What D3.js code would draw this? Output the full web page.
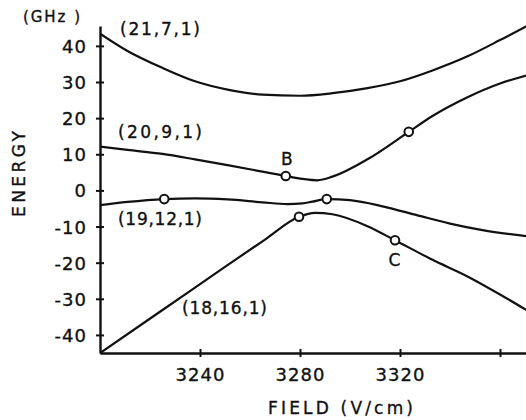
<!DOCTYPE html>
<html>
<head>
<meta charset="utf-8">
<script src="https://cdn.jsdelivr.net/npm/d3@7"></script>
<style>
  html, body { margin: 0; padding: 0; background: #fff; }
  svg { display: block; }
  text { font-family: "DejaVu Sans", sans-serif; fill: #111; stroke: #111; stroke-width: 0.35px; }
</style>
</head>
<body>
<svg id="chart" width="526" height="420"></svg>
<script>
// ---- data (field in V/cm, energy in GHz) ----
const curve21_7_1 = [[3200,43.4],[3211,38.6],[3225,33.9],[3238,30.2],[3251,27.9],[3265,26.5],[3280,26.2],[3293,26.9],[3307,28.3],[3320,30.2],[3333,33.2],[3347,37.1],[3360,41.6],[3371,45.6]];
const curve20_9_1 = [[3200,12.1],[3211,11.2],[3225,10.1],[3238,8.6],[3251,7.0],[3265,5.2],[3274.3,4.0],[3281,3.2],[3287,2.8],[3293,3.8],[3307,8.6],[3323.5,16.2],[3333,20.6],[3347,25.8],[3360,29.6],[3371,31.9]];
const curve19_12_1 = [[3200,-4.1],[3211,-3.2],[3225.7,-2.4],[3238,-2.2],[3251,-2.5],[3265,-3.3],[3275,-3.8],[3281,-3.6],[3285,-3.1],[3290.7,-2.4],[3300,-2.7],[3313,-4.4],[3327,-6.9],[3340,-9.2],[3353,-11.0],[3371,-12.7]];
const curve18_16_1 = [[3200,-45],[3225,-33.1],[3251,-20.7],[3266,-13.6],[3279.6,-7.3],[3286,-6.2],[3293,-6.6],[3307,-9.9],[3318,-13.8],[3333,-19.2],[3347,-23.8],[3360,-28.8],[3371,-33.3]];
const curveNames = ["(21,7,1)", "(20,9,1)", "(19,12,1)", "(18,16,1)"];
const markers = [[3274.3,4.0],[3323.5,16.2],[3225.7,-2.4],[3290.7,-2.4],[3279.6,-7.3],[3318,-13.8]];
const pointLabels = [["B",3274.7,7.1],["C",3317.8,-21.0]];
const yTicks = [-40,-30,-20,-10,0,10,20,30,40];
const xTicks = [3240,3280,3320,3360];
const xTickLabels = ["3240","3280","3320",""];
const xTitle = "FIELD (V/cm)";
const yTitle = "ENERGY";
const yUnit = "(GHz )";

// ---- scales ----
const svg = d3.select("#chart");
const x = d3.scaleLinear().domain([3200, 3370.4]).range([100, 526]);
const y = d3.scaleLinear().domain([-45, 45.5]).range([353, 26]);

svg.append("defs").append("clipPath").attr("id","plotclip")
  .append("rect").attr("x",100).attr("y",20).attr("width",426).attr("height",334);

// ---- curves ----
const line = d3.line().x(d => x(d[0])).y(d => y(d[1])).curve(d3.curveMonotoneX);
const g = svg.append("g").attr("clip-path","url(#plotclip)");
[curve21_7_1, curve20_9_1, curve19_12_1, curve18_16_1].forEach(c => {
  g.append("path").datum(c).attr("d", line)
    .attr("fill","none").attr("stroke","#111").attr("stroke-width",2.2)
    .attr("stroke-linejoin","round");
});

// ---- axes ----
const yAxis = d3.axisLeft(y).tickValues(yTicks).tickFormat(d => String(d)).tickSizeOuter(0).tickSizeInner(4);
const ya = svg.append("g").attr("transform","translate(100,0)").call(yAxis);
ya.select(".domain").attr("stroke","#111").attr("stroke-width",2.4);
ya.selectAll(".tick line").attr("x1",-4).attr("x2",4).attr("stroke","#111").attr("stroke-width",2);
ya.selectAll(".tick text").attr("x",-13).attr("dy","0.36em")
  .style("font-size","18px").style("font-family","'DejaVu Sans', sans-serif").attr("fill","#111")
  .attr("letter-spacing","1");

const xAxis = d3.axisBottom(x).tickValues(xTicks).tickFormat((d,i) => xTickLabels[i]).tickSizeOuter(0).tickSizeInner(4);
const xa = svg.append("g").attr("transform","translate(0,353)").call(xAxis);
xa.select(".domain").attr("stroke","#111").attr("stroke-width",2.4);
xa.selectAll(".tick line").attr("y1",-4).attr("y2",4).attr("stroke","#111").attr("stroke-width",2);
xa.selectAll(".tick text").attr("y",28).attr("dy","0")
  .style("font-size","18px").style("font-family","'DejaVu Sans', sans-serif").attr("fill","#111")
  .attr("letter-spacing","1");

// ---- markers ----
svg.append("g").selectAll("circle").data(markers).join("circle")
  .attr("cx", d => x(d[0])).attr("cy", d => y(d[1])).attr("r",4.3)
  .attr("fill","#fff").attr("stroke","#111").attr("stroke-width",2);

// ---- text labels ----
const curveLabelPos = [[120,35,80],[118,138,84],[118,225,84],[182,314,85]];
curveNames.forEach((t,i) => {
  const p = curveLabelPos[i];
  svg.append("text").attr("x",p[0]).attr("y",p[1]).text(t)
    .style("font-size","17px").attr("textLength",p[2]).attr("lengthAdjust","spacing");
});
pointLabels.forEach(d => {
  svg.append("text").attr("x", x(d[1])).attr("y", y(d[2])).attr("text-anchor","middle")
    .style("font-size","17px").text(d[0]);
});
svg.append("text").attr("x",23).attr("y",22).text(yUnit)
  .style("font-size","15px").attr("textLength",57).attr("lengthAdjust","spacing");
svg.append("text").attr("x",268).attr("y",414).text(xTitle)
  .style("font-size","17px").attr("textLength",145).attr("lengthAdjust","spacing");
svg.append("text").attr("transform","translate(25,217) rotate(-90)").text(yTitle)
  .style("font-size","17px").attr("textLength",86).attr("lengthAdjust","spacing");
</script>
</body>
</html>
